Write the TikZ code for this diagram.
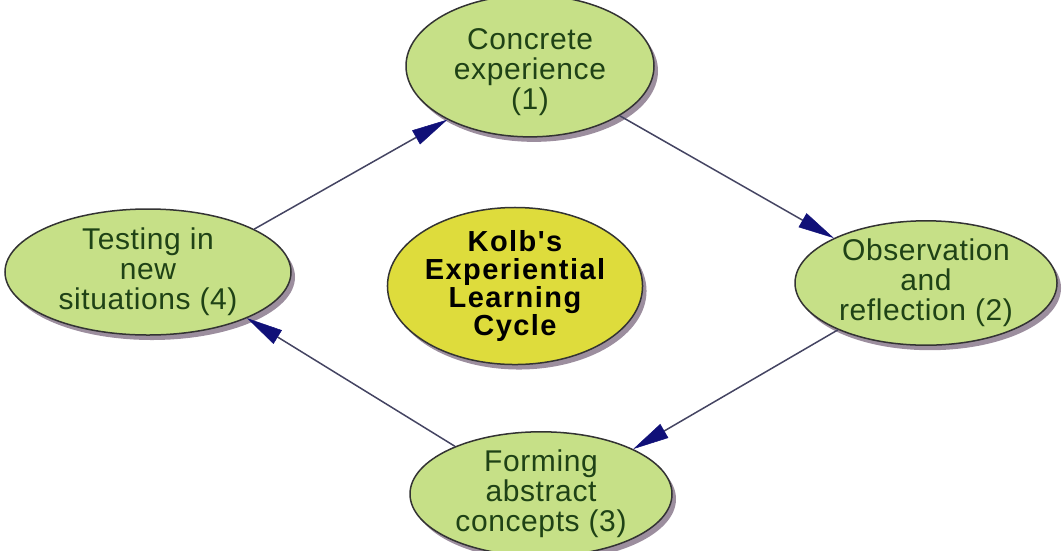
\documentclass[tikz,border=0pt]{standalone}
\usepackage{fontspec}
\setmainfont{Liberation Sans}
\newfontfamily\stagefont[LetterSpace=2]{Liberation Sans}
\newfontfamily\kolbfont[LetterSpace=5]{Liberation Sans Bold}
\usetikzlibrary{shapes.geometric,arrows.meta,shadows}
\definecolor{stagefill}{HTML}{C6E087}
\definecolor{kolbfill}{HTML}{DEDC3C}
\definecolor{stagetext}{HTML}{1F4216}
\definecolor{edgecol}{HTML}{333333}
\definecolor{shadowcol}{HTML}{9C8E9E}
\definecolor{linkcol}{HTML}{444462}
\definecolor{tipcol}{HTML}{101078}
\begin{document}
\begin{tikzpicture}[x=1pt,y=-1pt,
  base/.style={ellipse, draw=edgecol, line width=1.5pt, inner sep=0pt, align=center,
    drop shadow={shadow xshift=4pt, shadow yshift=-5pt, fill=shadowcol, opacity=1}},
  stage/.style={base, fill=stagefill, text=stagetext, font=\stagefont\fontsize{30}{30}\selectfont},
  kolb/.style={base, fill=kolbfill, text=black, font=\kolbfont\fontsize{29}{28}\selectfont},
  link/.style={draw=linkcol, line width=1.5pt,
    -{Triangle[length=36pt,width=16pt,fill=tipcol,color=tipcol,line width=0.5pt]}}
]
\useasboundingbox (0,0) rectangle (1062,550);
\node[stage, minimum width=248pt, minimum height=120pt] (c) at (530,66) {\rule{0pt}{34pt}Concrete\\experience\\(1)};
\node[stage, minimum width=262pt, minimum height=122pt] (o) at (926,283) {Observation\\and\\reflection (2)};
\node[stage, minimum width=262pt, minimum height=110pt] (f) at (541,494) {Forming\\abstract\\concepts (3)};
\node[stage, minimum width=286pt, minimum height=126pt] (t) at (148,272) {Testing in\\new\\situations (4)};
\node[kolb, minimum width=234pt, minimum height=152pt] (k) at (515,286) {Kolb\symbol{39}s\\Experiential\\Learning\\Cycle};
\draw[link] (t.22) -- (c.213);
\draw[link] (c.-29) -- (o.154);
\draw[link] (o.208) -- (f.26);
\draw[link] (f.151) -- (t.-25);
\end{tikzpicture}
\end{document}
